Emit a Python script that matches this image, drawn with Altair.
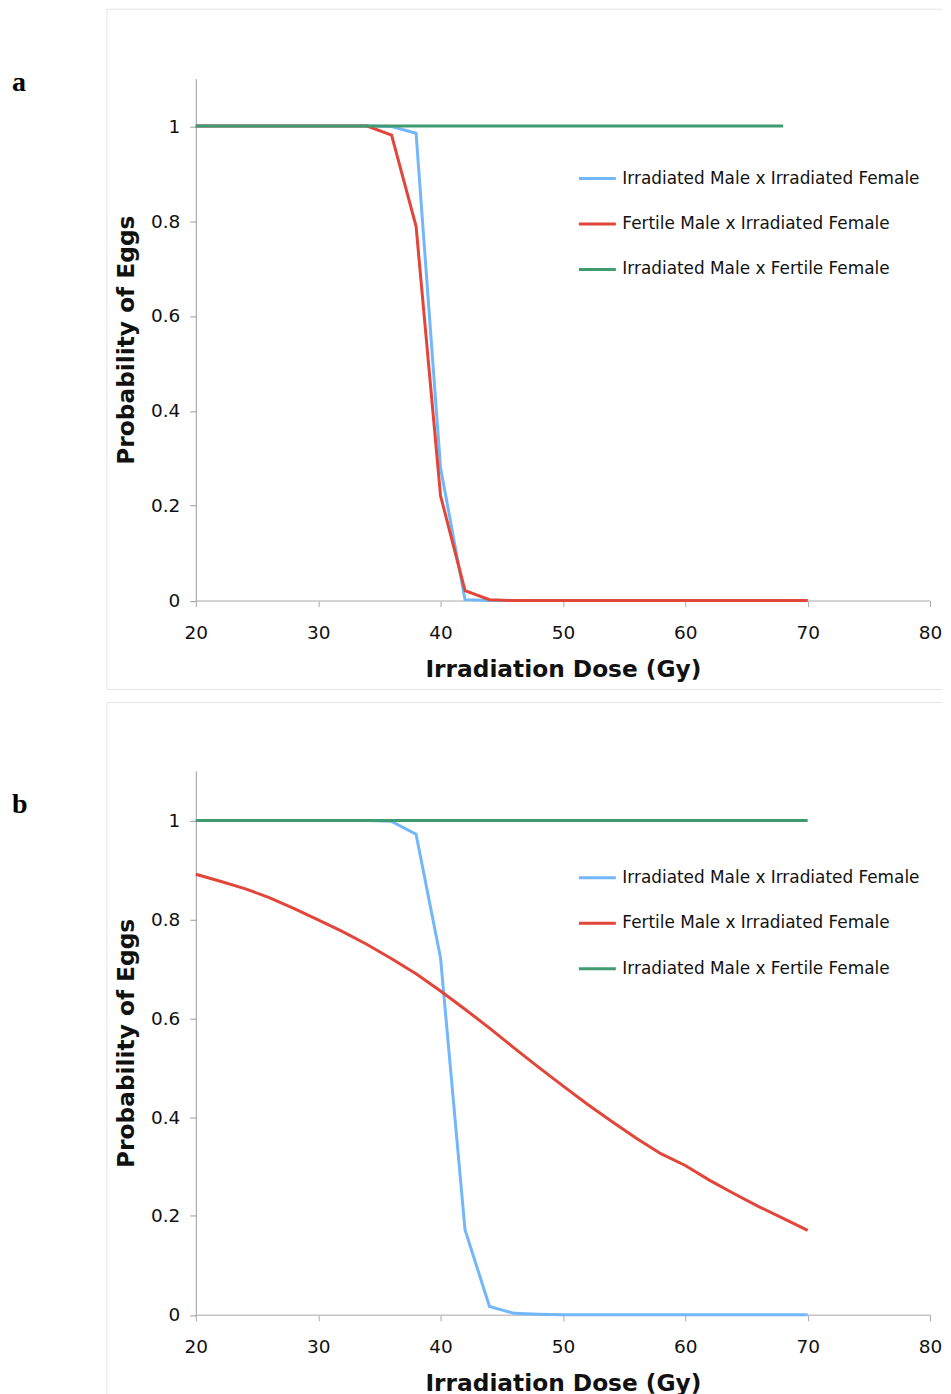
import altair as alt
import pandas as pd

series_names = [
    "Irradiated Male x Irradiated Female",
    "Fertile Male x Irradiated Female",
    "Irradiated Male x Fertile Female",
]
series_colors = ["#72B7F9", "#E2453A", "#409C70"]

dose = [20, 22, 24, 26, 28, 30, 32, 34, 36, 38, 40, 42, 44,
        46, 48, 50, 52, 54, 56, 58, 60, 62, 64, 66, 68, 70]

# Panel a
a_blue = [1.0, 1.0, 1.0, 1.0, 1.0, 1.0, 1.0, 1.0, 0.999, 0.985, 0.28, 0.002, 0.0,
          0.0, 0.0, 0.0, 0.0, 0.0, 0.0, 0.0, 0.0, 0.0, 0.0, 0.0, 0.0, 0.0]
a_red = [1.0, 1.0, 1.0, 1.0, 1.0, 1.0, 1.0, 1.0, 0.981, 0.789, 0.221, 0.021, 0.002,
         0.0, 0.0, 0.0, 0.0, 0.0, 0.0, 0.0, 0.0, 0.0, 0.0, 0.0, 0.0, 0.0]
a_green = [1.0, 1.0, 1.0, 1.0, 1.0, 1.0, 1.0, 1.0, 1.0, 1.0, 1.0, 1.0, 1.0,
           1.0, 1.0, 1.0, 1.0, 1.0, 1.0, 1.0, 1.0, 1.0, 1.0, 1.0, 1.0, None]

# Panel b
b_blue = [1.0, 1.0, 1.0, 1.0, 1.0, 1.0, 1.0, 1.0, 0.998, 0.972, 0.722, 0.172, 0.017,
          0.003, 0.001, 0.0, 0.0, 0.0, 0.0, 0.0, 0.0, 0.0, 0.0, 0.0, 0.0, 0.0]
b_red = [0.891, 0.877, 0.862, 0.844, 0.822, 0.799, 0.775, 0.749, 0.720, 0.690, 0.655, 0.618, 0.580,
         0.540, 0.501, 0.463, 0.426, 0.391, 0.357, 0.326, 0.302, 0.272, 0.245, 0.219, 0.195, 0.171]
b_green = [1.0, 1.0, 1.0, 1.0, 1.0, 1.0, 1.0, 1.0, 1.0, 1.0, 1.0, 1.0, 1.0,
           1.0, 1.0, 1.0, 1.0, 1.0, 1.0, 1.0, 1.0, 1.0, 1.0, 1.0, 1.0, 1.0]

y_ticks = [0, 0.2, 0.4, 0.6, 0.8, 1]
x_ticks = [20, 30, 40, 50, 60, 70, 80]


def long_df(blue, red, green):
    rows = []
    for name, vals in zip(series_names, [blue, red, green]):
        for d, v in zip(dose, vals):
            if v is not None:
                rows.append({"dose": d, "p": v, "series": name})
    return pd.DataFrame(rows)


W = 735
FRAME = "#e4e4e4"
FRAME_RIGHT = 747
one = pd.DataFrame({"k": [0]})


def make_panel(df, letter, H, legend_y, letter_y, frame_top, frame_bottom):
    x = alt.X(
        "dose:Q",
        scale=alt.Scale(domain=[20, 80], nice=False, zero=False),
        axis=alt.Axis(
            values=x_ticks, title="Irradiation Dose (Gy)", grid=False,
            domainColor="#c4c4c4", domainWidth=1.5, tickColor="#a8a8a8",
            tickSize=6, tickWidth=1, labelFlush=False,
            labelFont="DejaVu Sans", labelFontSize=18.5, labelColor="#111111",
            labelPadding=17,
            titleFont="DejaVu Sans", titleFontSize=23.3, titleFontWeight="bold",
            titleColor="#111111", titleX=W / 2, titleY=69,
            titleBaseline="middle", titleAlign="center",
        ),
    )
    y = alt.Y(
        "p:Q",
        scale=alt.Scale(domain=[0, 1.1], nice=False),
        axis=alt.Axis(
            values=y_ticks, format="~g", title="Probability of Eggs", grid=False,
            domainColor="#9a9a9a", domainWidth=1, tickColor="#9a9a9a",
            tickSize=6, tickWidth=1, labelFlush=False,
            labelFont="DejaVu Sans", labelFontSize=18.5, labelColor="#111111",
            labelPadding=10,
            titleFont="DejaVu Sans", titleFontSize=23.3, titleFontWeight="bold",
            titleColor="#111111", titleX=-69, titleY=H / 2, titleAngle=270,
            titleBaseline="middle", titleAlign="center",
        ),
    )
    color = alt.Color(
        "series:N",
        sort=series_names,
        scale=alt.Scale(domain=series_names, range=series_colors),
        legend=alt.Legend(
            title=None, orient="none", legendX=382, legendY=legend_y,
            symbolType="stroke", symbolStrokeWidth=3, symbolSize=1369,
            labelFont="DejaVu Sans", labelFontSize=16.9, labelColor="#111111",
            labelOffset=5, rowPadding=17.5, padding=0, labelLimit=0,
        ),
    )
    lines = alt.Chart(df).mark_line(strokeWidth=3, clip=False).encode(
        x=x, y=y, color=color, order="dose:Q"
    )
    top = alt.Chart(one).mark_rule(color=FRAME, strokeWidth=1).encode(
        x=alt.value(-89), x2=alt.value(FRAME_RIGHT), y=alt.value(frame_top)
    )
    left = alt.Chart(one).mark_rule(color=FRAME, strokeWidth=1).encode(
        x=alt.value(-89), y=alt.value(frame_top), y2=alt.value(frame_bottom)
    )
    bottom = alt.Chart(one).mark_rule(color=FRAME, strokeWidth=1).encode(
        x=alt.value(-89), x2=alt.value(FRAME_RIGHT), y=alt.value(frame_bottom)
    )
    lab = alt.Chart(pd.DataFrame({"t": [letter]})).mark_text(
        font="Liberation Serif", fontSize=28, fontWeight="bold",
        align="left", baseline="alphabetic", color="#000000",
    ).encode(x=alt.value(-184), y=alt.value(letter_y), text="t:N")
    return alt.layer(top, left, bottom, lines, lab).properties(width=W, height=H)


Ha = 522.5
Hb = 544.5
pa = make_panel(long_df(a_blue, a_red, a_green), "a", Ha, 80, 12.5, -69.5, Ha + 89)
pb = make_panel(long_df(b_blue, b_red, b_green), "b", Hb, 87, 42.5, -68.5, Hb + 89)

chart = (
    alt.vconcat(pa, pb, spacing=12)
    .resolve_scale(color="independent")
    .properties(padding={"left": 4, "top": 0, "right": 0, "bottom": 0}, background="white")
    .configure_view(stroke=None)
)

chart.save("out.html", embed_options={"renderer": "svg", "actions": False})
